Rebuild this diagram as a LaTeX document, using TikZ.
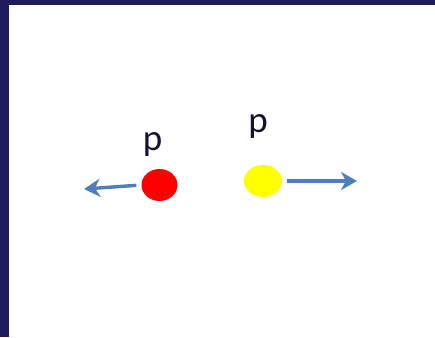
\documentclass[tikz,border=0pt]{standalone}
\usepackage{fontspec}
\setmainfont{Carlito}
\usetikzlibrary{arrows.meta,shapes.geometric}
\definecolor{navy}{HTML}{1E1C5C}
\definecolor{arrowblue}{HTML}{4F7FBA}
\definecolor{dotred}{HTML}{FF0000}
\definecolor{dotyellow}{HTML}{FFFF00}
\definecolor{ink}{HTML}{141233}
\tikzset{
  dot/.style={ellipse, inner sep=0pt, minimum width=36pt, minimum height=32pt},
  lbl/.style={inner sep=0pt, font=\fontsize{37}{37}\selectfont, text=ink},
  arr/.style={draw=arrowblue, line width=3.4pt, -{Stealth[length=16pt,width=18pt,inset=5pt]}}
}
\begin{document}
\begin{tikzpicture}[x=1pt,y=-1pt]
  \useasboundingbox (0,0) rectangle (435,337);
  \fill[navy] (0,0) rectangle (435,337);
  \fill[white] (9,5) rectangle (435,337);
  \node[dot, fill=dotred] (red) at (159.5,185) {};
  \node[dot, fill=dotyellow, minimum width=38pt] (yel) at (263,181) {};
  \node[lbl] (p1) at (152.5,144) {p};
  \node[lbl] (p2) at (258,126.5) {p};
  \coordinate (ltip) at (84,189);
  \coordinate (rtip) at (357,181);
  \draw[arr, shorten <=5pt] (red.west) -- (ltip);
  \draw[arr, shorten <=5pt] (yel.east) -- (rtip);
\end{tikzpicture}
\end{document}
